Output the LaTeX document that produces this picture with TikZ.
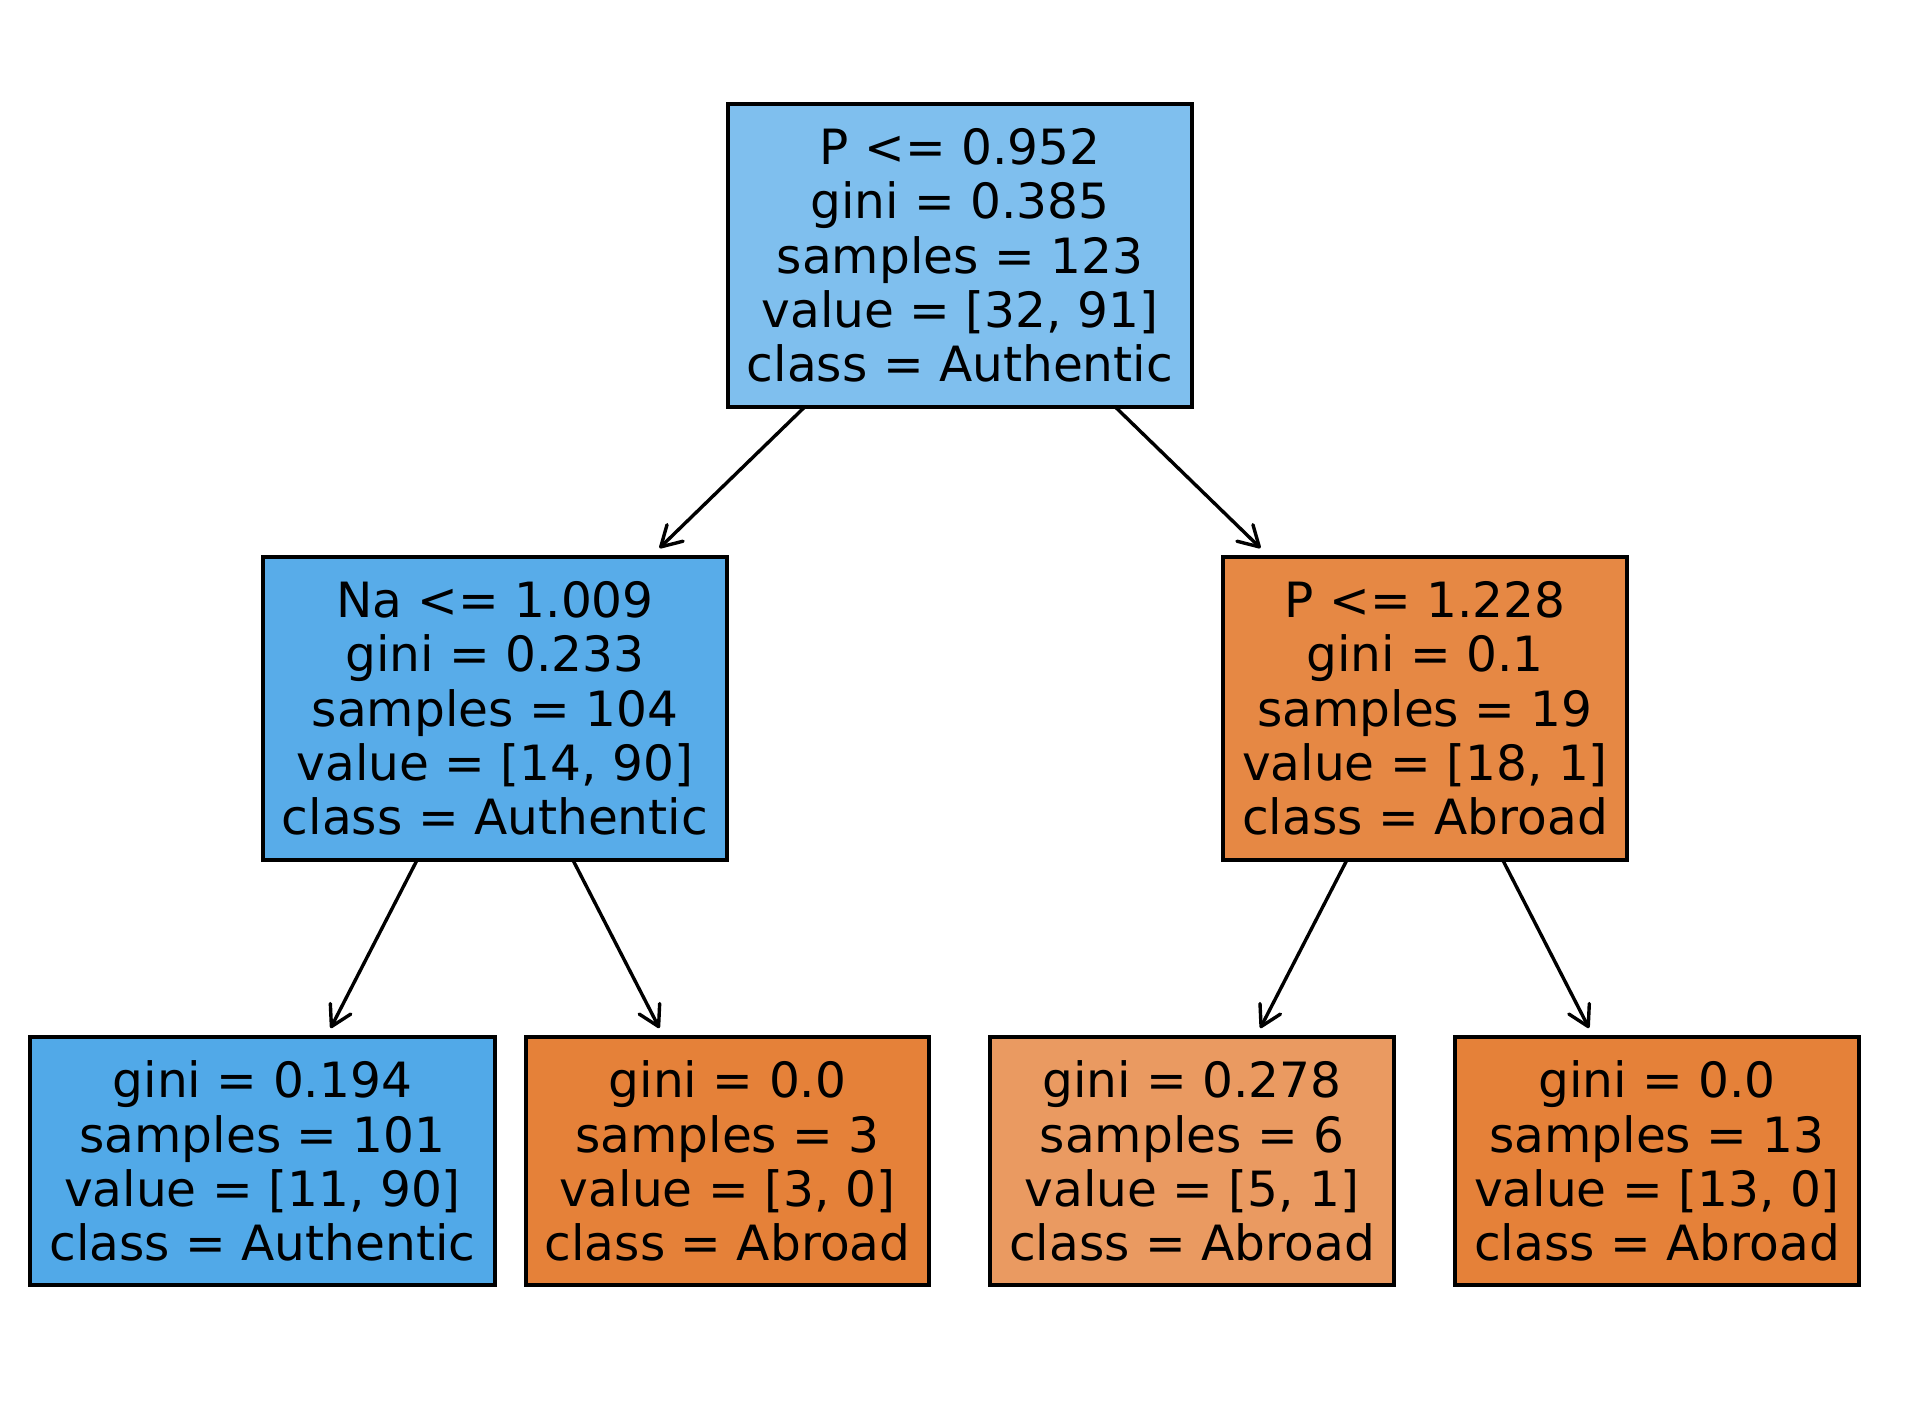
\documentclass[tikz,border=0pt]{standalone}
\usepackage{fontspec}
\setmainfont{DejaVu Sans}
\usetikzlibrary{arrows.meta}
\definecolor{cRoot}{RGB}{127,191,238}
\definecolor{cLeft}{RGB}{88,172,233}
\definecolor{cRight}{RGB}{230,136,68}
\definecolor{cLeafA}{RGB}{81,169,232}
\definecolor{cOrange}{RGB}{229,129,57}
\definecolor{cLeafC}{RGB}{234,154,97}
\tikzset{
  treebox/.style={draw=black, line width=1.65pt, rectangle, inner sep=0pt, outer sep=0pt,
    align=center, font=\fontsize{24.3}{27.1}\selectfont, minimum height=151.5pt},
  leafbox/.style={treebox, minimum height=124pt},
  edge/.style={line width=1.7pt, line cap=round,
    -{Straight Barb[length=10pt,width=11.5pt,line width=1.7pt,round]}}
}
\begin{document}
\begin{tikzpicture}[x=0.5pt,y=-0.5pt]
\useasboundingbox (0,0) rectangle (1919,1418);
\node[treebox, fill=cRoot, minimum width=232pt] (root) at (960,255.5)
  {P <= 0.952\\gini = 0.385\\samples = 123\\value = [32, 91]\\class = Authentic};
\node[treebox, fill=cLeft, minimum width=232pt] (left) at (495,708.5)
  {Na <= 1.009\\gini = 0.233\\samples = 104\\value = [14, 90]\\class = Authentic};
\node[treebox, fill=cRight, minimum width=202pt] (right) at (1425,708.5)
  {P <= 1.228\\gini = 0.1\\samples = 19\\value = [18, 1]\\class = Abroad};
\node[leafbox, fill=cLeafA, minimum width=232.5pt] (l1) at (262.5,1161)
  {gini = 0.194\\samples = 101\\value = [11, 90]\\class = Authentic};
\node[leafbox, fill=cOrange, minimum width=201.5pt] (l2) at (727.5,1161)
  {gini = 0.0\\samples = 3\\value = [3, 0]\\class = Abroad};
\node[leafbox, fill=cLeafC, minimum width=202pt] (l3) at (1192,1161)
  {gini = 0.278\\samples = 6\\value = [5, 1]\\class = Abroad};
\node[leafbox, fill=cOrange, minimum width=202pt] (l4) at (1657,1161)
  {gini = 0.0\\samples = 13\\value = [13, 0]\\class = Abroad};
\draw[edge, shorten >=6.4pt] (root) -- (left);
\draw[edge, shorten >=6.4pt] (root) -- (right);
\draw[edge, shorten >=5pt] (left) -- (l1);
\draw[edge, shorten >=5pt] (left) -- (l2);
\draw[edge, shorten >=5pt] (right) -- (l3);
\draw[edge, shorten >=5pt] (right) -- (l4);
\end{tikzpicture}
\end{document}
